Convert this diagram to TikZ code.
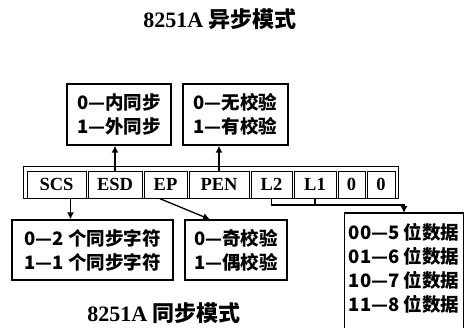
\documentclass[tikz,border=0pt]{standalone}
\usepackage{fontspec}
\setmainfont{Liberation Serif}
\newfontfamily\cjk{Noto Sans CJK SC}
\usepackage{tikz}
\usetikzlibrary{positioning}
\usetikzlibrary{arrows.meta}

\begin{document}
\begin{tikzpicture}[x=1pt,y=-1pt,
  regbit/.style={draw,line width=1pt,inner sep=0pt,minimum height=27pt,
    font=\fontsize{18.5}{18}\selectfont\bfseries},
  infobox/.style={draw,line width=1.3pt,align=left,inner sep=3pt,
    font=\fontsize{18.5}{24}\selectfont\cjk\bfseries},
  link/.style={line width=1.3pt,-{Latex[length=7pt,width=7pt]}}]
\useasboundingbox (0,0) rectangle (469,327);
\clip (0,0) rectangle (469,327);
% titles
\node (asyntitle) at (220,19) {\fontsize{22}{22}\selectfont\bfseries 8251A {\cjk 异步模式}};
\node[inner sep=1pt] (syntitle) at (164,313) {\fontsize{22}{22}\selectfont\bfseries 8251A {\cjk 同步模式}};
% mode register
\node[regbit,minimum width=59pt] (scs) at (56.5,184.5) {SCS};
\node[regbit,minimum width=54pt,right=1pt of scs] (esd) {ESD};
\node[regbit,minimum width=43pt,right=1pt of esd] (ep) {EP};
\node[regbit,minimum width=60pt,right=1pt of ep] (pen) {PEN};
\node[regbit,minimum width=41pt,right=1pt of pen] (ltwo) {L2};
\node[regbit,minimum width=42pt,right=1pt of ltwo] (lone) {L1};
\node[regbit,minimum width=27pt,right=1pt of lone] (zeroa) {0};
\node[regbit,minimum width=28pt,right=1pt of zeroa] (zerob) {0};
\draw[line width=1.5pt] ([xshift=-3pt]scs.south west) rectangle ([xshift=3pt,yshift=4pt]zerob.north east);
% boxes
\node[infobox,minimum width=104pt,minimum height=61pt] (insync) at (119,114.5) {0—内同步\\1—外同步};
\node[infobox,minimum width=105pt,minimum height=61pt] (parcheck) at (235.5,114.5) {0—无校验\\1—有校验};
\node[infobox,minimum width=161pt,minimum height=60pt] (syncchar) at (92.5,250) {0—2 个同步字符\\1—1 个同步字符};
\node[infobox,minimum width=102pt,minimum height=60pt] (oddeven) at (236,250) {0—奇校验\\1—偶校验};
\node[infobox,draw=none,anchor=north,minimum width=118pt,inner xsep=2pt,inner ysep=10pt] (bits) at (404,213)
  {00—5 位数据\\01—6 位数据\\10—7 位数据\\11—8 位数据};
\draw[line width=1.3pt] ([yshift=-20pt]bits.south west) -- (bits.north west)
  -- (bits.north east) -- ([yshift=-20pt]bits.south east);
% connectors
\draw[link] (esd.north) -- (esd.north |- insync.south);
\draw[link] (pen.north) -- (pen.north |- parcheck.south);
\draw[link] ([xshift=14pt]scs.south) -- ([xshift=14pt]scs.south |- syncchar.north);
\draw[link] ([xshift=-6pt]ep.south) -- ([xshift=-26pt]oddeven.north);
\coordinate (join) at (404,205);
\draw[link] (ltwo.south) |- (join) -- (bits.north);
\draw[line width=1.3pt] (lone.south) -- (lone.south |- join);
\end{tikzpicture}
\end{document}
